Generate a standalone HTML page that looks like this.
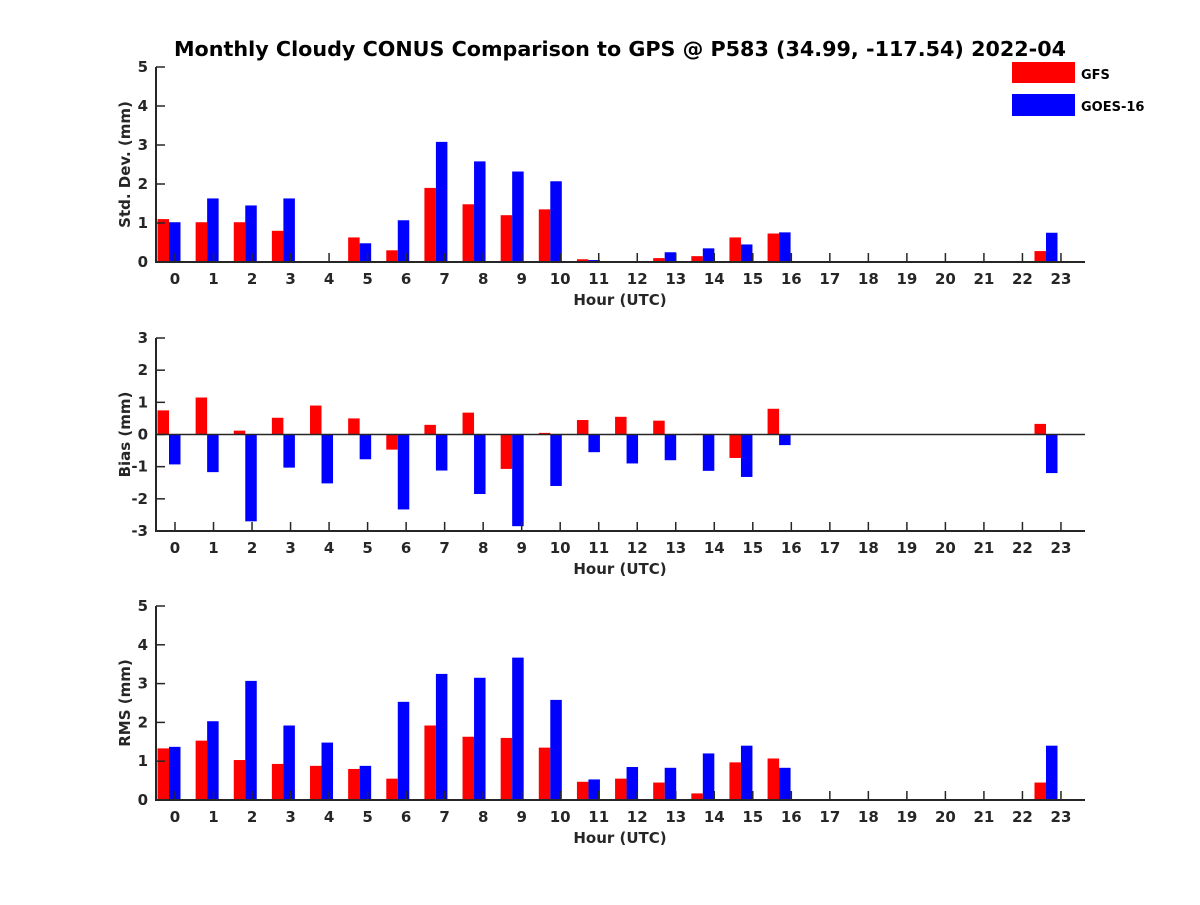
<!DOCTYPE html>
<html><head><meta charset="utf-8"><style>
body{margin:0;background:#fff}
text{font-family:"DejaVu Sans","Liberation Sans",sans-serif;font-weight:bold;fill:#262626}
</style></head><body>
<svg id="chart" width="1200" height="900" xmlns="http://www.w3.org/2000/svg">
<rect width="1200" height="900" fill="#fff"/>
<text x="620" y="56" text-anchor="middle" font-size="20.7" style="fill:#000">Monthly Cloudy CONUS Comparison to GPS @ P583 (34.99, -117.54) 2022-04</text>
<g id="plots"></g>
<g>
<rect x="1012" y="62" width="63" height="21" fill="#f00"/>
<text x="1081" y="79" font-size="13" style="fill:#000">GFS</text>
<rect x="1012" y="94" width="63" height="22" fill="#00f"/>
<text x="1081" y="111" font-size="13" style="fill:#000">GOES-16</text>
</g>
</svg>
<script>
const hours=[0,1,2,3,4,5,6,7,8,9,10,11,12,13,14,15,16,17,18,19,20,21,22,23];
const stdGFS=[1.1,1.02,1.02,0.8,0,0.63,0.3,1.9,1.48,1.2,1.35,0.07,0,0.1,0.15,0.63,0.73,0,0,0,0,0,0,0.28];
const stdGOES=[1.02,1.63,1.45,1.63,0,0.48,1.07,3.08,2.58,2.32,2.07,0.05,0,0.25,0.35,0.45,0.76,0,0,0,0,0,0,0.75];
const biasGFS=[0.75,1.15,0.12,0.52,0.9,0.5,-0.47,0.3,0.68,-1.07,0.05,0.45,0.55,0.43,0.02,-0.73,0.8,0,0,0,0,0,0,0.33];
const biasGOES=[-0.93,-1.17,-2.7,-1.03,-1.52,-0.77,-2.33,-1.12,-1.85,-2.85,-1.6,-0.55,-0.9,-0.8,-1.13,-1.32,-0.33,0,0,0,0,0,0,-1.2];
const rmsGFS=[1.33,1.53,1.03,0.93,0.88,0.8,0.55,1.92,1.63,1.6,1.35,0.47,0.55,0.45,0.17,0.97,1.07,0,0,0,0,0,0,0.45];
const rmsGOES=[1.37,2.03,3.07,1.92,1.48,0.88,2.53,3.25,3.15,3.67,2.58,0.53,0.85,0.83,1.2,1.4,0.83,0,0,0,0,0,0,1.4];
const stdTicks=[0,1,2,3,4,5], biasTicks=[-3,-2,-1,0,1,2,3], rmsTicks=[0,1,2,3,4,5];

const NS="http://www.w3.org/2000/svg";
const root=document.getElementById('plots');
const L=156,R=1085;
const tickX=h=>175+h*38.52;
const barX=h=>169+h*38.13;
function mk(tag,attrs,parent){const e=document.createElementNS(NS,tag);for(const k in attrs)e.setAttribute(k,attrs[k]);parent.appendChild(e);return e;}
function panel(name,top,bottom,ymin,ymax,ticks,gfs,goes,ylabel,zeroLine){
  const g=mk('g',{},root);
  
  
  const y=v=>bottom-(v-ymin)/(ymax-ymin)*(bottom-top);
  const bw=11.5;
  hours.forEach((h,i)=>{
    [[gfs[i],'#f00',-bw,'gfs'],[goes[i],'#00f',0,'goes']].forEach(([v,c,off,s])=>{
      if(!v)return;
      const y0=y(0),y1=y(v);
      const r=mk('rect',{x:barX(h)+off,y:Math.min(y0,y1),width:bw,height:Math.abs(y1-y0),fill:c},g);
      
      
    });
  });
  const ax=mk('path',{d:`M${L},${top}V${bottom}H${R}`,stroke:'#262626','stroke-width':2,fill:'none'},g);
  
  
  if(zeroLine){const z=mk('line',{x1:L,x2:R,y1:y(0),y2:y(0),stroke:'#262626','stroke-width':1.5},g);
    
    }
  ticks.forEach(t=>{
    mk('line',{x1:L,x2:L+9,y1:y(t),y2:y(t),stroke:'#262626','stroke-width':1.5},g);
    const tx=mk('text',{x:L-8,y:y(t)+5,'text-anchor':'end','font-size':15},g);tx.textContent=t;
    
    
  });
  hours.forEach(h=>{
    mk('line',{x1:tickX(h),x2:tickX(h),y1:bottom,y2:bottom-9,stroke:'#262626','stroke-width':1.5},g);
    const tx=mk('text',{x:tickX(h),y:bottom+22,'text-anchor':'middle','font-size':15},g);tx.textContent=h;
    
    
  });
  const xl=mk('text',{x:620,y:bottom+43,'text-anchor':'middle','font-size':15},g);xl.textContent='Hour (UTC)';
  
  
  const cy=(top+bottom)/2;
  const yl=mk('text',{x:130,y:cy,'text-anchor':'middle','font-size':15,transform:`rotate(-90 130 ${cy})`},g);yl.textContent=ylabel;
  
  
}
panel('std',67,262,0,5,stdTicks,stdGFS,stdGOES,'Std. Dev. (mm)',false);
panel('bias',338,531,-3,3,biasTicks,biasGFS,biasGOES,'Bias (mm)',true);
panel('rms',606,800,0,5,rmsTicks,rmsGFS,rmsGOES,'RMS (mm)',false);
</script>
</body></html>
